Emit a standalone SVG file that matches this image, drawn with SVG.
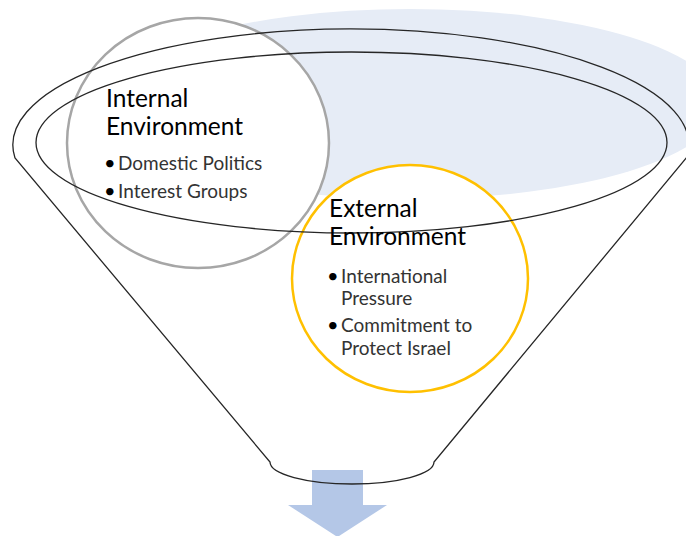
<svg xmlns="http://www.w3.org/2000/svg" width="686" height="536" viewBox="0 0 686 536">
<style>
.line{fill:none;stroke:#262626;stroke-width:1.3}
.h{font-family:Lato,"Open Sans",sans-serif;font-size:24.5px;fill:#000}
.b{font-family:Lato,"Open Sans",sans-serif;font-size:19px;fill:#333}
.d{font-family:Lato,"Open Sans",sans-serif;font-size:20px;fill:#000}
</style>
<rect width="686" height="536" fill="#fff"/>
<ellipse id="shade" cx="410" cy="104" rx="310" ry="95" fill="#E6ECF6"/>
<path id="arrow" d="M312,470 H363 V505 H387 L337.5,537 L288,505 H312 Z" fill="#B4C7E7"/>
<g id="internal">
<ellipse cx="198" cy="143" rx="131" ry="125" fill="#fff" stroke="#A6A6A6" stroke-width="2.5"/>
</g>
<g id="external">
<ellipse cx="410" cy="278.5" rx="118" ry="113.5" fill="#fff" stroke="#FFC000" stroke-width="2.5"/>
</g>
<g id="funnel">
<path class="line" d="M15,158 A338,116 0 1,1 687,157 L434,462 A82,22 0 0,1 270,462 Z"/>
<ellipse class="line" cx="351.5" cy="142.5" rx="315.5" ry="90.5"/>
</g>
<g id="internal-text">
<text class="h" x="106" y="107">Internal</text>
<text class="h" x="106" y="135">Environment</text>
<text class="d" x="104" y="170">•</text>
<text class="b" x="118" y="170">Domestic Politics</text>
<text class="d" x="104" y="198">•</text>
<text class="b" x="118" y="198">Interest Groups</text>
</g>
<g id="external-text">
<text class="h" x="329" y="217">External</text>
<text class="h" x="329" y="245">Environment</text>
<text class="d" x="327" y="283">•</text>
<text class="b" x="341" y="283">International</text>
<text class="b" x="341" y="305">Pressure</text>
<text class="d" x="327" y="332">•</text>
<text class="b" x="341" y="332">Commitment to</text>
<text class="b" x="341" y="355">Protect Israel</text>
</g>
</svg>
